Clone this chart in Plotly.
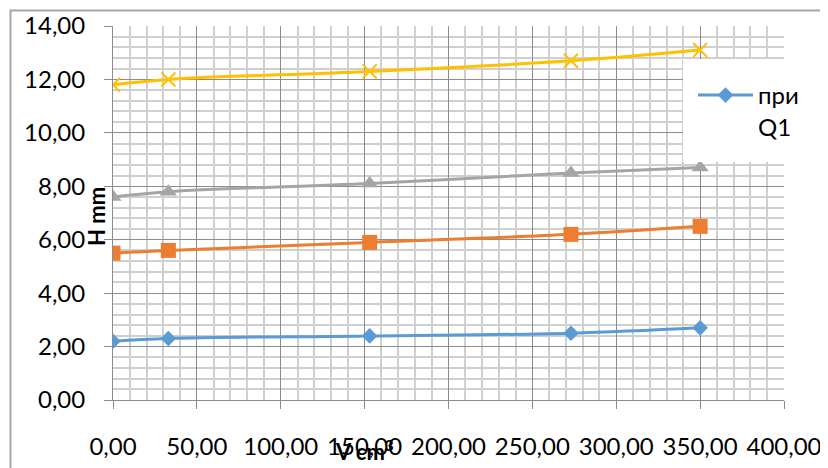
import plotly.graph_objects as go

# Data
v_cm3 = [0, 33, 153, 273, 350]
h_q1 = [2.2, 2.3, 2.4, 2.5, 2.7]
h_q2 = [5.5, 5.6, 5.9, 6.2, 6.5]
h_q3 = [7.6, 7.8, 8.1, 8.5, 8.7]
h_q4 = [11.8, 12.0, 12.3, 12.7, 13.1]
legend_label = "при<br>Q1"
x_title = "V cm<sup>3</sup>"
y_title = "H mm"

OFF = 8  # page body margin
W, H = 820, 460
L, R, T, B = 113 - OFF, 44, 26 - OFF, 68
PW, PH = W - L - R, H - T - B

def px_x(p):
    return (p - OFF - L) / PW

def px_y(p):
    return (H - B - (p - OFF)) / PH

FONT = "Lato, 'Open Sans', 'Noto Sans', sans-serif"

fig = go.Figure()
fig.add_trace(go.Scatter(x=v_cm3, y=h_q1, mode="lines+markers", name=legend_label,
                         line=dict(color="#5B9BD5", width=3, shape="spline"),
                         marker=dict(symbol="diamond", size=12, color="#5B9BD5")))
fig.add_trace(go.Scatter(x=v_cm3, y=h_q2, mode="lines+markers", showlegend=False,
                         line=dict(color="#ED7D31", width=3, shape="spline"),
                         marker=dict(symbol="square", size=15, color="#ED7D31")))
fig.add_trace(go.Scatter(x=v_cm3, y=h_q3, mode="lines+markers", showlegend=False,
                         line=dict(color="#A5A5A5", width=3, shape="spline"),
                         marker=dict(symbol="triangle-up", size=15, color="#A5A5A5")))
fig.add_trace(go.Scatter(x=v_cm3, y=h_q4, mode="lines+markers", showlegend=False,
                         line=dict(color="#FFC000", width=3, shape="spline"),
                         marker=dict(symbol="x-thin-open", size=14, color="#FFC000",
                                     line=dict(color="#FFC000", width=2))))

axis_common = dict(
    showgrid=True, gridcolor="#8c8c8c", gridwidth=1,
    zeroline=False, showline=True, linecolor="#8c8c8c", linewidth=1,
    ticks="outside", ticklen=8, tickcolor="#8c8c8c",
    tickfont=dict(family=FONT, size=24, color="#000000"),
    tickformat=".2f",
)

fig.update_xaxes(range=[0, 400], dtick=50, tick0=0, ticklabelstandoff=17,
                 minor=dict(dtick=10, showgrid=True, gridcolor="#cfcfcf", gridwidth=1.5),
                 **axis_common)
fig.update_yaxes(range=[0, 14], dtick=2, tick0=0, ticklabelstandoff=14,
                 minor=dict(dtick=0.4, showgrid=True, gridcolor="#cfcfcf", gridwidth=1.5),
                 **axis_common)

shapes = [
    # chart area border (cropped at right/bottom)
    dict(type="rect", xref="paper", yref="paper",
         x0=px_x(10.5), x1=px_x(850), y0=px_y(490), y1=px_y(10.5),
         line=dict(color="#a6a6a6", width=2), fillcolor="rgba(0,0,0,0)", layer="below"),
    # legend white box
    dict(type="rect", xref="paper", yref="paper",
         x0=px_x(683), x1=px_x(830), y0=px_y(162), y1=px_y(59),
         line=dict(width=0), fillcolor="#ffffff", layer="above"),
]

annotations = [
    dict(text=y_title, xref="paper", yref="paper", x=px_x(96), y=px_y(217),
         xanchor="center", yanchor="middle", textangle=-90, showarrow=False,
         font=dict(family=FONT, size=22, color="#000000", weight="bold")),
    dict(text=x_title, xref="paper", yref="paper", x=px_x(364), y=px_y(451),
         xanchor="center", yanchor="middle", showarrow=False,
         font=dict(family=FONT, size=22, color="#000000", weight="bold")),
]

fig.update_layout(
    width=W, height=H,
    margin=dict(l=L, r=R, t=T, b=B, autoexpand=False),
    paper_bgcolor="#ffffff", plot_bgcolor="#ffffff",
    separators=", ",
    shapes=shapes, annotations=annotations,
    showlegend=True,
    legend=dict(x=px_x(693), y=px_y(73), xanchor="left", yanchor="top",
                bgcolor="rgba(0,0,0,0)", borderwidth=0, valign="top",
                itemwidth=55, font=dict(family=FONT, size=24, color="#000000")),
)

fig.write_html("out.html")
